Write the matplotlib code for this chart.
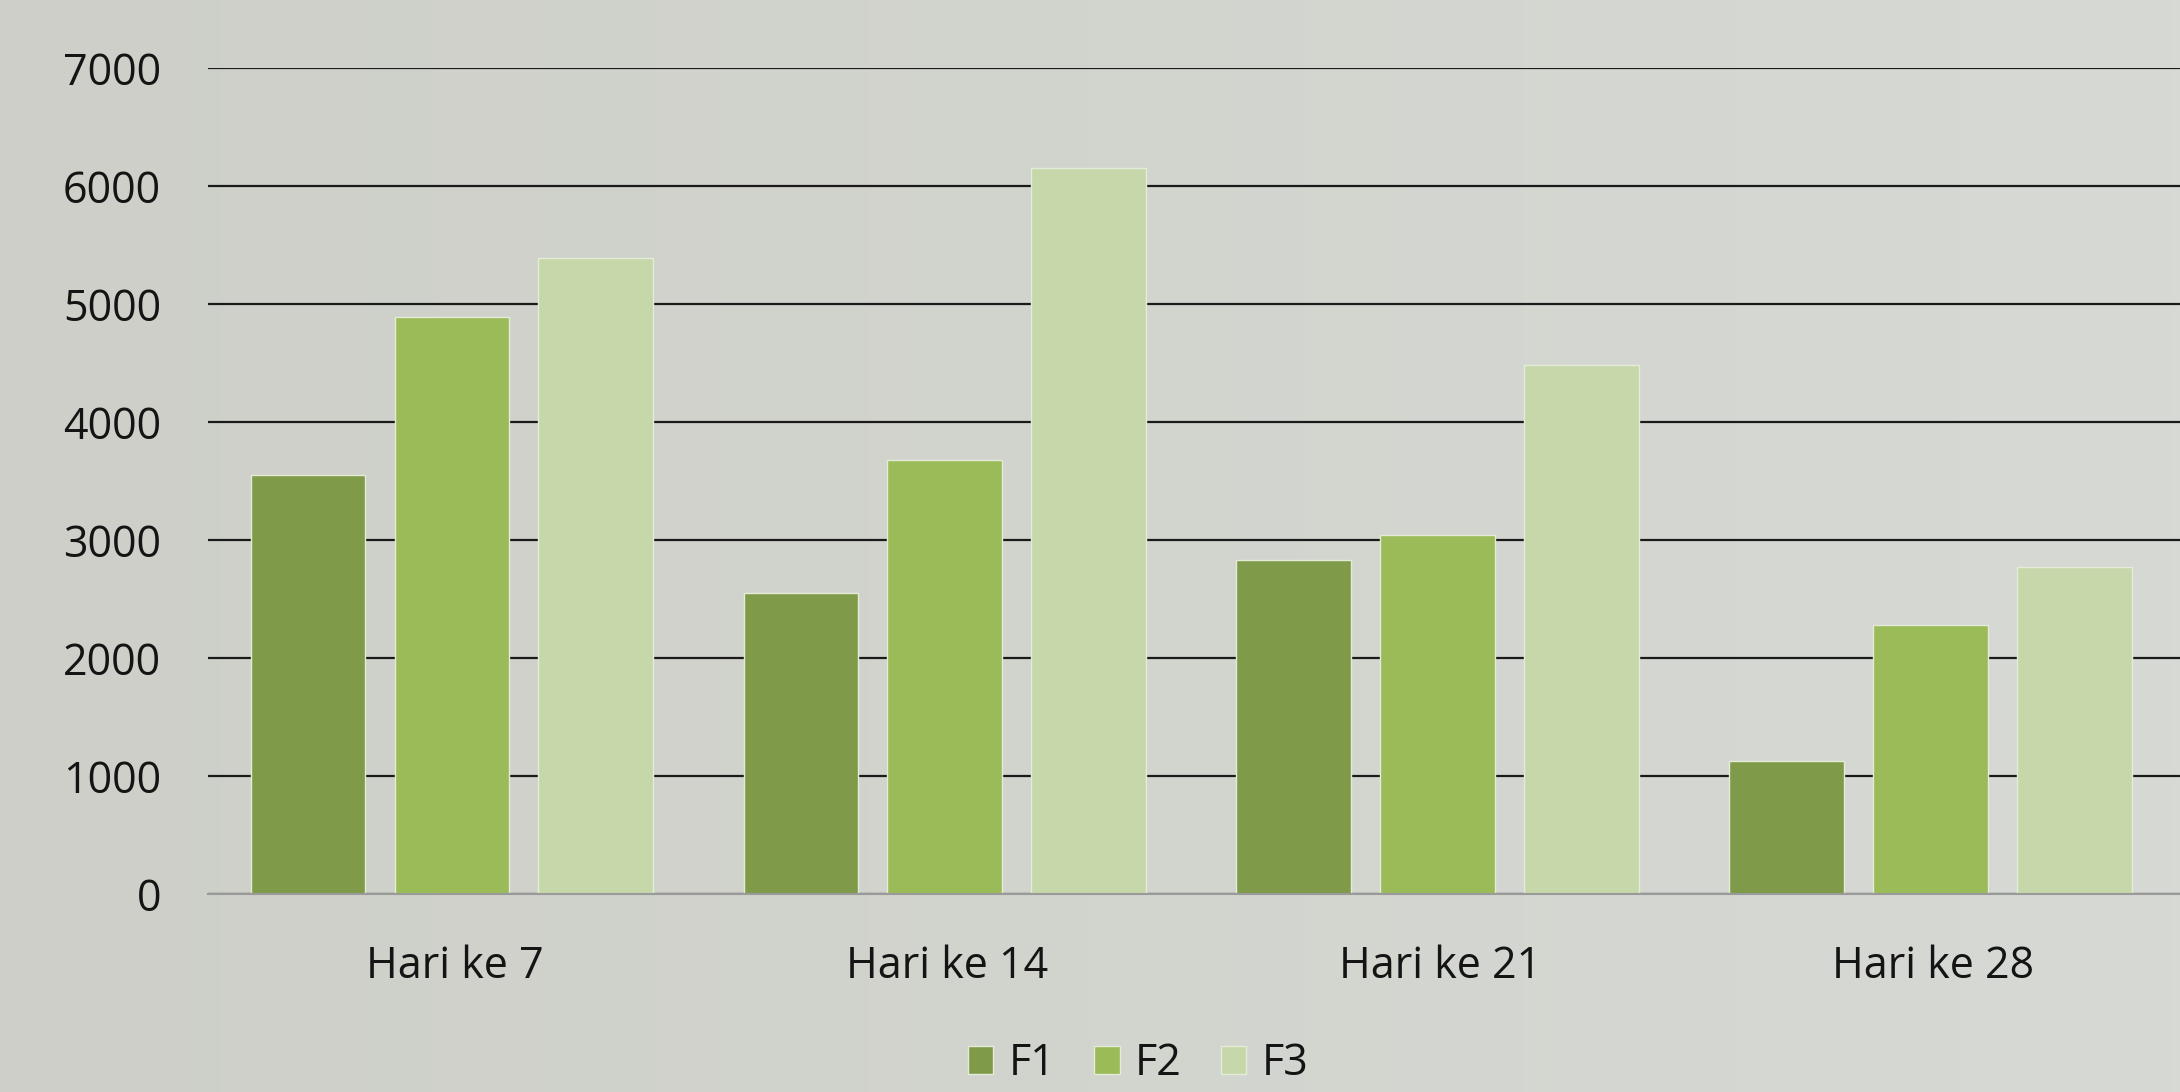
import matplotlib.pyplot as plt
import numpy as np

# data
categories = ['Hari ke 7', 'Hari ke 14', 'Hari ke 21', 'Hari ke 28']
series_names = ['F1', 'F2', 'F3']
f1 = [3550, 2550, 2830, 1130]
f2 = [4890, 3680, 3045, 2280]
f3 = [5390, 6150, 4480, 2770]
colors = ['#7f9a48', '#9bbb59', '#c6d7aa']

plt.rcParams['font.family'] = ['Open Sans', 'DejaVu Sans']

fig = plt.figure(figsize=(21.8, 10.92), dpi=100, facecolor='#d1d3cd')

# soft background, a little lighter to the right like the photo backdrop
bg = fig.add_axes([0, 0, 1, 1], zorder=-1)
grad = np.linspace(0, 1, 256).reshape(1, -1)
bg.imshow(grad, aspect='auto', cmap=plt.matplotlib.colors.LinearSegmentedColormap.from_list(
    'bg', ['#cdcfc8', '#d2d4ce', '#d7d9d5']), extent=[0, 1, 0, 1])
bg.axis('off')

ax = fig.add_axes([0.0955, 0.1813, 0.9045, 0.7564])
ax.set_facecolor('none')

x = np.arange(len(categories))
width = 0.232
offset = 0.292
for i, (vals, name) in enumerate(zip([f1, f2, f3], series_names)):
    ax.bar(x + (i - 1) * offset - 0.006, vals, width, color=colors[i], label=name,
           edgecolor='#e4ecd8', linewidth=1.0, zorder=3)

ax.set_ylim(0, 7000)
ax.set_xlim(-0.5, 3.5)
ax.set_yticks(range(0, 7001, 1000))
ax.yaxis.grid(True, color='#1a1a1a', linewidth=1.6, zorder=0)
ax.set_axisbelow(True)

for side in ['top', 'right', 'left']:
    ax.spines[side].set_visible(False)
ax.spines['bottom'].set_color('#9a9a9a')
ax.spines['bottom'].set_linewidth(1.5)
ax.spines['bottom'].set_zorder(4)

ax.set_xticks(x)
ax.set_xticklabels(categories)
ax.tick_params(axis='both', length=0, labelsize=31, colors='#141414')
ax.tick_params(axis='y', pad=34)
ax.tick_params(axis='x', pad=36)

leg = fig.legend(loc='lower center', ncol=3, bbox_to_anchor=(0.522, -0.03),
                 frameon=False, fontsize=31, handlelength=0.6, handleheight=0.6,
                 handletextpad=0.35, columnspacing=0.9, labelcolor='#141414')

fig.savefig('out.png', dpi=100, facecolor=fig.get_facecolor())
